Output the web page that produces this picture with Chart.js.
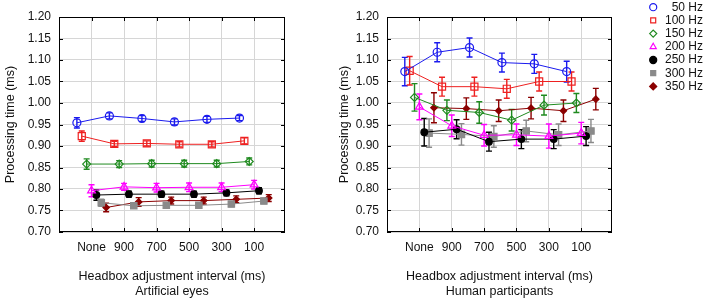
<!DOCTYPE html>
<html>
<head>
<meta charset="utf-8">
<script src="https://cdn.jsdelivr.net/npm/chart.js@4.4.1/dist/chart.umd.min.js"></script>
<style>
  body { margin: 0; background: #fff; }
  #wrap { position: relative; width: 706px; height: 300px; }
  canvas { position: absolute; top: 0; }
  #eyes { left: 0; }
  #human { left: 328px; }
</style>
</head>
<body>
<div id="wrap">
  <canvas id="eyes" width="328" height="300"></canvas>
  <canvas id="human" width="378" height="300"></canvas>
</div>
<script>
const xLabels = ['None', '900', '700', '500', '300', '100'];
const seriesNames = ['50 Hz', '100 Hz', '150 Hz', '200 Hz', '250 Hz', '300 Hz', '350 Hz'];

// Artificial eyes - means
const eyes50  = [0.954, 0.970, 0.964, 0.956, 0.962, 0.965];
const eyes100 = [0.923, 0.905, 0.906, 0.904, 0.904, 0.912];
const eyes150 = [0.858, 0.858, 0.859, 0.859, 0.859, 0.864];
const eyes200 = [0.796, 0.805, 0.803, 0.804, 0.804, 0.810];
const eyes250 = [0.786, 0.788, 0.788, 0.788, 0.791, 0.796];
const eyes300 = [0.768, 0.761, 0.762, 0.762, 0.765, 0.772];
const eyes350 = [0.757, 0.770, 0.773, 0.773, 0.776, 0.779];
// Artificial eyes - error bar half lengths
const eyesErr50  = [0.012, 0.007, 0.007, 0.007, 0.007, 0.006];
const eyesErr100 = [0.012, 0.006, 0.006, 0.006, 0.006, 0.007];
const eyesErr150 = [0.012, 0.008, 0.008, 0.008, 0.008, 0.008];
const eyesErr200 = [0.014, 0.008, 0.010, 0.010, 0.010, 0.010];
const eyesErr250 = [0.012, 0.007, 0.007, 0.007, 0.007, 0.007];
const eyesErr300 = [0.008, 0.006, 0.006, 0.006, 0.006, 0.006];
const eyesErr350 = [0.010, 0.010, 0.008, 0.008, 0.008, 0.008];

// Human participants - means
const human50  = [1.073, 1.118, 1.129, 1.094, 1.091, 1.073];
const human100 = [1.075, 1.038, 1.038, 1.033, 1.050, 1.050];
const human150 = [1.013, 0.983, 0.978, 0.960, 0.995, 1.000];
const human200 = [0.991, 0.947, 0.925, 0.926, 0.923, 0.930];
const human250 = [0.932, 0.939, 0.910, 0.916, 0.916, 0.923];
const human300 = [0.930, 0.927, 0.922, 0.935, 0.926, 0.935];
const human350 = [0.989, 0.987, 0.982, 0.988, 0.982, 1.009];
// Human participants - error bar half lengths
const humanErr50  = [0.033, 0.022, 0.022, 0.022, 0.022, 0.024];
const humanErr100 = [0.033, 0.022, 0.022, 0.022, 0.022, 0.022];
const humanErr150 = [0.032, 0.024, 0.025, 0.025, 0.023, 0.022];
const humanErr200 = [0.030, 0.025, 0.025, 0.025, 0.028, 0.025];
const humanErr250 = [0.032, 0.022, 0.022, 0.022, 0.022, 0.022];
const humanErr300 = [0.033, 0.025, 0.025, 0.025, 0.025, 0.027];
const humanErr350 = [0.035, 0.025, 0.025, 0.025, 0.025, 0.025];

const yTicks = [0.70, 0.75, 0.80, 0.85, 0.90, 0.95, 1.00, 1.05, 1.10, 1.15, 1.20];

const looks = [
  { color: '#1a1aee', point: 'circle',   filled: false, r: 4 },
  { color: '#ee2020', point: 'rect',     filled: false, r: 5 },
  { color: '#1f8a1f', point: 'rectRot',  filled: false, r: 4 },
  { color: '#ff00ff', point: 'triangle', filled: false, r: 4.5 },
  { color: '#000000', point: 'circle',   filled: true,  r: 3.3 },
  { color: '#8a8a8a', point: 'rect',     filled: true,  r: 4.5 },
  { color: '#8b0000', point: 'rectRot',  filled: true,  r: 3.2 }
];

const FONT = "'Liberation Sans', Arial, sans-serif";
Chart.defaults.font.family = FONT;
Chart.defaults.color = '#111';

function buildSets(means, errs) {
  return means.map((vals, i) => {
    const lk = looks[i];
    return {
      label: seriesNames[i],
      data: vals.map((v, j) => ({ x: j + 1 + (i - 3) * 0.15, y: v })),
      errors: errs[i],
      borderColor: lk.color,
      backgroundColor: lk.color,
      borderWidth: 1,
      tension: 0,
      pointStyle: lk.point,
      pointRadius: lk.r,
      pointBorderWidth: 1.2,
      pointBorderColor: lk.color,
      pointBackgroundColor: lk.filled ? lk.color : 'rgba(0,0,0,0)'
    };
  });
}

// vertical error bars, read from dataset.errors
const errorBars = {
  id: 'errorBars',
  beforeDatasetsDraw(chart) {
    const { ctx } = chart;
    const ys = chart.scales.y;
    ctx.save();
    ctx.lineWidth = 1.4;
    chart.data.datasets.forEach((ds, i) => {
      const meta = chart.getDatasetMeta(i);
      ctx.strokeStyle = ds.borderColor;
      ds.data.forEach((p, j) => {
        const px = meta.data[j].x;
        const t = ys.getPixelForValue(p.y + ds.errors[j]);
        const b = ys.getPixelForValue(p.y - ds.errors[j]);
        ctx.beginPath();
        ctx.moveTo(px, t); ctx.lineTo(px, b);
        ctx.moveTo(px - 3, t); ctx.lineTo(px + 3, t);
        ctx.moveTo(px - 3, b); ctx.lineTo(px + 3, b);
        ctx.stroke();
      });
    });
    ctx.restore();
  }
};

// box round the plot with small inward ticks
const frame = {
  id: 'frame',
  afterDraw(chart) {
    const { ctx, chartArea: a } = chart;
    const xs = chart.scales.x, ys = chart.scales.y;
    ctx.save();
    ctx.strokeStyle = '#000';
    ctx.lineWidth = 1;
    ctx.strokeRect(Math.round(a.left) + 0.5, Math.round(a.top) + 0.5, Math.round(a.width) - 1, Math.round(a.height) - 1);
    ctx.beginPath();
    yTicks.forEach(v => {
      const py = Math.round(ys.getPixelForValue(v)) + 0.5;
      ctx.moveTo(a.left, py); ctx.lineTo(a.left + 4, py);
      ctx.moveTo(a.right, py); ctx.lineTo(a.right - 4, py);
    });
    xLabels.forEach((_, j) => {
      const px = Math.round(xs.getPixelForValue(j + 1)) + 0.5;
      ctx.moveTo(px, a.bottom); ctx.lineTo(px, a.bottom - 4);
      ctx.moveTo(px, a.top); ctx.lineTo(px, a.top + 4);
    });
    ctx.stroke();
    ctx.restore();
  }
};

function makeChart(id, means, errs, subtitle, withLegend) {
  const scales = {
    x: {
      type: 'linear', min: 0, max: 6.95,
      afterBuildTicks: s => { s.ticks = xLabels.map((_, j) => ({ value: j + 1 })); },
      afterFit: s => { s.height = 68; },
      ticks: { callback: (v) => xLabels[Math.round(v) - 1], padding: 8, font: { size: 12 }, maxRotation: 0, autoSkip: false },
      grid: { color: '#d6d6d6', lineWidth: 1, drawTicks: false },
      border: { display: false },
      title: {
        display: true, text: ['Headbox adjustment interval (ms)', subtitle],
        font: { size: 12.5, lineHeight: 1.15 }, padding: { top: 0, bottom: 1.5 }, color: '#111'
      }
    },
    y: {
      min: 0.7, max: 1.2,
      afterBuildTicks: s => { s.ticks = yTicks.map(v => ({ value: v })); },
      afterFit: s => { s.width = 59; },
      ticks: { callback: v => v.toFixed(2), padding: 8, font: { size: 12 } },
      grid: { color: '#d6d6d6', lineWidth: 1, drawTicks: false },
      border: { display: false },
      title: {
        display: true, text: 'Processing time (ms)',
        font: { size: 12.5, lineHeight: 1.15 }, padding: { top: withLegend ? 9 : 3, bottom: 0 }, color: '#111'
      }
    }
  };
  let padding = { left: 0, top: 17, right: 43, bottom: 0 };
  if (withLegend) {
    // spacers between plot and legend / above the plot
    scales.gapRight = { type: 'linear', position: 'right', display: true, ticks: { display: false }, grid: { display: false }, border: { display: false }, afterFit: s => { s.width = 34; } };
    scales.gapTop = { type: 'linear', position: 'top', display: true, ticks: { display: false }, grid: { display: false }, border: { display: false }, afterFit: s => { s.height = 17; } };
    padding = { left: 0, top: 0, right: 3, bottom: 0 };
  }
  return new Chart(document.getElementById(id), {
    type: 'line',
    data: { datasets: buildSets(means, errs) },
    options: {
      responsive: false,
      animation: false,
      layout: { padding: padding },
      scales: scales,
      plugins: {
        tooltip: { enabled: false },
        legend: {
          display: withLegend,
          position: 'right',
          align: 'start',
          maxWidth: 57,
          labels: {
            usePointStyle: true, boxWidth: 12, boxHeight: 5, padding: 1.2,
            textAlign: 'right', font: { size: 12 }, color: '#111'
          }
        }
      }
    },
    plugins: [errorBars, frame]
  });
}

makeChart('eyes',
  [eyes50, eyes100, eyes150, eyes200, eyes250, eyes300, eyes350],
  [eyesErr50, eyesErr100, eyesErr150, eyesErr200, eyesErr250, eyesErr300, eyesErr350],
  'Artificial eyes', false);
makeChart('human',
  [human50, human100, human150, human200, human250, human300, human350],
  [humanErr50, humanErr100, humanErr150, humanErr200, humanErr250, humanErr300, humanErr350],
  'Human participants', true);
</script>
</body>
</html>
